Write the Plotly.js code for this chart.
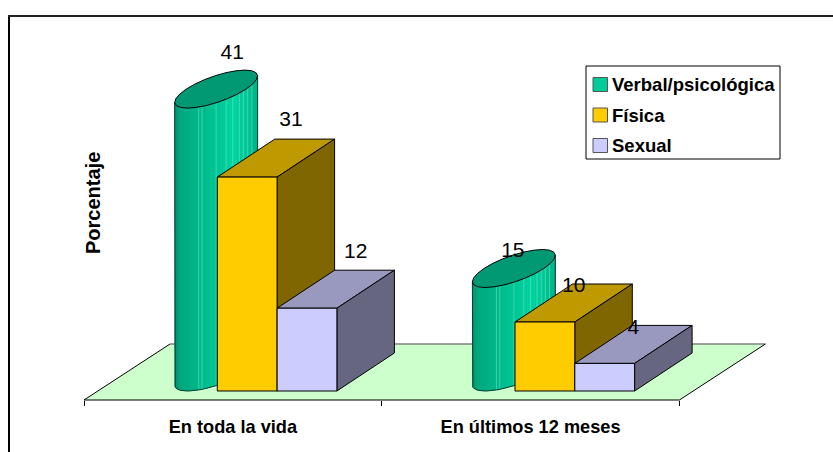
<!DOCTYPE html>
<html>
<head>
<meta charset="utf-8">
<script src="https://cdn.plot.ly/plotly-3.0.1.min.js"></script>
<style>html,body{margin:0;padding:0;background:#fff;overflow:hidden}#chart{width:833px;height:452px}</style>
</head>
<body>
<div id="chart"></div>
<script>
// --- data ---
var categories = ["En toda la vida", "En últimos 12 meses"];
var seriesNames = ["Verbal/psicológica", "Física", "Sexual"];
var verbal = [41, 15];
var fisica = [31, 10];
var sexual = [12, 4];
var yTitle = "Porcentaje";

// --- palette ---
var legendColors = ["#00CC99", "#FFCC00", "#CCCCFF"];
var topColors = ["#009973", "#BF9900", "#9999BF"];
var sideColors = ["#007F5F", "#806600", "#666680"];
var floorColor = "#CCFFCC";

// --- scale of the oblique projection (plot = full page) ---
var W = 833, H = 452;
var pxX = 297.7, pxY = 6.9, x0px = 84, y0px = 391;  // category width, px per %, origin
var barW = 59.8 / pxX;                              // bar width in category units
var depthX = 57.5 / pxX, depthY = 38 / pxY;         // bar depth in axis units
var floorDX = 86 / pxX, floorDY = 56 / pxY, floorDrop = 9 / pxY;
var barStart = (157.5 - x0px) / pxX;                // first bar's left edge inside its category
var fontName = "'Liberation Sans',Arial,sans-serif";

var traces = [];
function poly(xs, ys, fill, lineColor, lineW) {
  traces.push({
    type: "scatter", mode: lineColor ? "lines" : "none",
    x: xs.concat([xs[0]]), y: ys.concat([ys[0]]),
    fill: "toself", fillcolor: fill,
    line: {color: lineColor || fill, width: lineW === undefined ? 1 : lineW},
    hoverinfo: "skip", showlegend: false
  });
}
function path(xs, ys, color, w) {
  traces.push({type: "scatter", mode: "lines", x: xs, y: ys,
    line: {color: color, width: w}, hoverinfo: "skip", showlegend: false});
}

// floor
var fx = floorDX, fy = floorDY, fb = -floorDrop;
poly([0, 2, 2 + fx, fx], [fb, fb, fb + fy, fb + fy], floorColor);
path([fx, 2 + fx], [fb + fy, fb + fy], "#808080", 1.5);
path([0, fx], [fb, fb + fy], "#000000", 1);
path([2, 2 + fx], [fb, fb + fy], "#000000", 1);
path([0, 2], [fb, fb], "#000000", 1.2);

function shade(f) {
  // f = 0 at the left silhouette, 1 at the right one
  var stops = [[0, [0, 130, 100]], [0.06, [0, 165, 125]], [0.25, [0, 180, 136]], [0.5, [0, 198, 150]],
               [0.72, [0, 214, 162]], [0.88, [0, 198, 150]], [1, [0, 176, 134]]];
  for (var i = 1; i < stops.length; i++) {
    if (f <= stops[i][0]) {
      var a = stops[i - 1], b = stops[i], k = (f - a[0]) / (b[0] - a[0]);
      return "rgb(" + a[1].map(function (c, j) { return Math.round(c + (b[1][j] - c) * k); }).join(",") + ")";
    }
  }
  return "rgb(0,176,134)";
}
var stripeF = [0.29, 0.33, 0.5, 0.62, 0.7, 0.78, 0.83, 0.88, 0.93]; // lighter facet seams

function cylinder(cat, v) {
  var cx = cat + barStart + barW / 2 + depthX / 2, cy = depthY / 2;
  var t0 = Math.atan2(depthX / 2, barW / 2);
  function px(t) { return cx + barW / 2 * Math.cos(t) + depthX / 2 * Math.sin(t); }
  function py(t) { return cy + depthY / 2 * Math.sin(t); }
  var N = 40, i, halfW = px(t0) - cx;
  var ts = [];
  for (i = 0; i <= N; i++) ts.push(t0 - Math.PI + Math.PI * i / N);
  // silhouette outline points
  var ox = [px(ts[0])], oy = [py(ts[0]) + v];
  ts.forEach(function (t) { ox.push(px(t)); oy.push(py(t)); });
  ox.push(px(ts[N])); oy.push(py(ts[N]) + v);
  // solid body behind the strips
  poly(ox.slice(), oy.slice(), "rgb(0,185,140)");
  for (i = 0; i < N; i++) {
    var a = ts[i], b = ts[i + 1];
    var f = ((px(a) + px(b)) / 2 - (cx - halfW)) / (2 * halfW);
    poly([px(a), px(b), px(b), px(a)], [py(a), py(b), py(b) + v, py(a) + v], shade(f));
  }
  // facet seams: find where each fraction falls on the front arc
  stripeF.forEach(function (sf) {
    var tx = cx - halfW + sf * 2 * halfW, j = 0;
    while (j < N - 1 && px(ts[j + 1]) < tx) j++;
    var k = (tx - px(ts[j])) / (px(ts[j + 1]) - px(ts[j]));
    var yb = py(ts[j]) + k * (py(ts[j + 1]) - py(ts[j]));
    traces.push({type: "scatter", mode: "lines", x: [tx, tx], y: [yb, yb + v], opacity: 0.45,
      line: {color: "#7FF0D0", width: 1}, hoverinfo: "skip", showlegend: false});
  });
  path(ox, oy, "#0a3a30", 1);
  // cap
  var cxs = [], cys = [];
  for (i = 0; i < 24; i++) { var t = 2 * Math.PI * i / 24; cxs.push(px(t)); cys.push(py(t) + v); }
  poly(cxs, cys, topColors[0], "#000000", 1);
}

function box(cat, slot, v, s) {
  var l = cat + barStart + barW * slot, r = l + barW;
  poly([l, r, r + depthX, l + depthX], [v, v, v + depthY, v + depthY], topColors[s], "#000000", 1);
  poly([r, r + depthX, r + depthX, r], [0, depthY, v + depthY, v], sideColors[s], "#000000", 1);
  poly([l, r, r, l], [0, 0, v, v], legendColors[s], "#000000", 1);
}

var labelsX = [], labelsY = [], labelsT = [];
// label offsets from the middle of each top face, px
var labelOffX = [[16, 15, 20], [-1, 0, 0]];
var labelOffY = [[35, 37, 36], [17, 16, 16]];

categories.forEach(function (c, i) {
  cylinder(i, verbal[i]);
  box(i, 1, fisica[i], 1);
  box(i, 2, sexual[i], 2);
  [verbal[i], fisica[i], sexual[i]].forEach(function (v, s) {
    labelsX.push(i + barStart + barW * (s + 0.5) + depthX / 2 + labelOffX[i][s] / pxX);
    labelsY.push(v + depthY / 2 + labelOffY[i][s] / pxY);
    labelsT.push(String(v));
  });
});
traces.push({type: "scatter", mode: "text", x: labelsX, y: labelsY, text: labelsT,
  textposition: "middle center", textfont: {family: fontName, size: 21, color: "#000"},
  hoverinfo: "skip", showlegend: false});

function P(x) { return x / W; }
function Q(y) { return 1 - y / H; }
var shapes = [
  {type: "line", xref: "paper", yref: "paper", x0: P(9), x1: P(9), y0: Q(16), y1: Q(H), line: {color: "#000", width: 2}},
  {type: "line", xref: "paper", yref: "paper", x0: P(8), x1: 1, y0: Q(16), y1: Q(16), line: {color: "#222", width: 2}},
  {type: "rect", xref: "paper", yref: "paper", x0: P(586), x1: P(780), y0: Q(66), y1: Q(159), line: {color: "#000", width: 1}, fillcolor: "#fff"}
];
var rowY = [84.5, 115, 145.5];
var annotations = [
  {xref: "paper", yref: "paper", x: P(93), y: Q(203), text: "<b>" + yTitle + "</b>", textangle: -90, showarrow: false,
   font: {family: fontName, size: 20, color: "#000"}, xanchor: "center", yanchor: "middle"}
];
seriesNames.forEach(function (n, i) {
  shapes.push({type: "rect", xref: "paper", yref: "paper", x0: P(593), x1: P(607.5), y0: Q(rowY[i] - 7), y1: Q(rowY[i] + 7),
    line: {color: "#555", width: 1}, fillcolor: legendColors[i]});
  annotations.push({xref: "paper", yref: "paper", x: P(610), y: Q(rowY[i]), text: "<b>" + n + "</b>", showarrow: false,
    xanchor: "left", yanchor: "middle", font: {family: fontName, size: 18.5, color: "#000"}});
});

var layout = {
  width: W, height: H, margin: {l: 0, r: 0, t: 0, b: 0},
  paper_bgcolor: "#fff", plot_bgcolor: "rgba(0,0,0,0)", showlegend: false,
  xaxis: {
    range: [-x0px / pxX, (W - x0px) / pxX], anchor: "free", position: (H - 400) / H,
    showgrid: false, zeroline: false, showline: false, fixedrange: true,
    tickmode: "array", tickvals: [0.5, 1.5], ticktext: categories.map(function (c) { return "<b>" + c + "</b>"; }),
    ticks: "outside", ticklen: 0, tickcolor: "rgba(0,0,0,0)", ticklabelstandoff: 10,
    tickfont: {family: fontName, size: 18.2, color: "#000"},
    minor: {tickmode: "array", tickvals: [0, 1, 2], ticks: "outside", ticklen: 5, tickwidth: 1, tickcolor: "#000", showgrid: false}
  },
  yaxis: {
    range: [(y0px - H) / pxY, y0px / pxY], showgrid: false, zeroline: false, showline: false,
    showticklabels: false, ticks: "", fixedrange: true
  },
  shapes: shapes, annotations: annotations
};
Plotly.newPlot("chart", traces, layout, {displayModeBar: false, staticPlot: true});
</script>
</body>
</html>
